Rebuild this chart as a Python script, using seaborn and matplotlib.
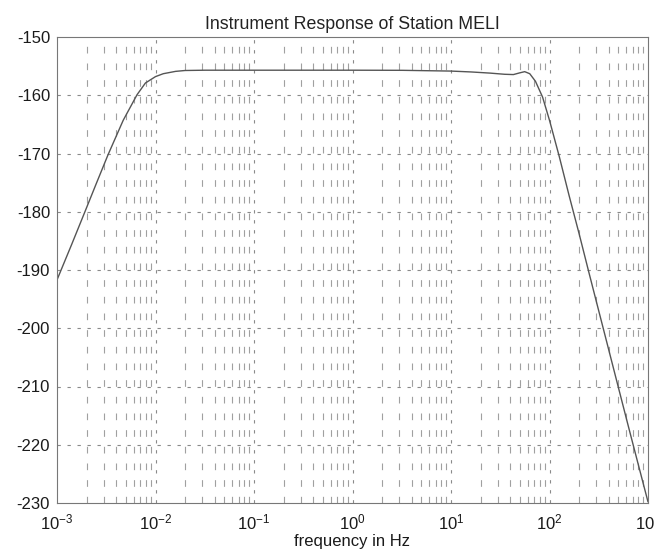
import matplotlib
matplotlib.use("Agg")
import matplotlib.pyplot as plt
import seaborn as sns
import pandas as pd

# ---- data ----
freq_hz = [0.001, 0.00141, 0.0019, 0.0025, 0.0033, 0.0047, 0.0065, 0.0079,
           0.010, 0.012, 0.016, 0.020, 0.032, 0.1, 1.0, 3.2, 10.0, 16.0,
           25.0, 35.0, 43.0, 50.0, 56.0, 63.0, 72.0, 85.0, 100.0, 126.0,
           158.0, 200.0, 251.0, 316.0, 398.0, 501.0, 631.0, 794.0, 1000.0]
response_db = [-191.7, -185.6, -180.2, -175.2, -170.2, -164.3, -159.9, -157.9,
               -156.8, -156.3, -155.9, -155.75, -155.7, -155.7, -155.7, -155.72,
               -155.85, -156.0, -156.2, -156.4, -156.45, -156.15, -155.95,
               -156.3, -157.6, -160.3, -164.3, -170.6, -177.2, -183.8, -190.4,
               -197.0, -203.6, -210.2, -216.8, -223.3, -229.8]
y_ticks = [-150, -160, -170, -180, -190, -200, -210, -220, -230]
x_decades = [1e-3, 1e-2, 1e-1, 1e0, 1e1, 1e2, 1e3]
title_text = "Instrument Response of Station MELI"
xlabel_text = "frequency in Hz"

df = pd.DataFrame({"freq": freq_hz, "db": response_db})

sns.set_style("white")
plt.rcParams["font.family"] = ["Liberation Sans", "DejaVu Sans"]
plt.rcParams["axes.unicode_minus"] = False
plt.rcParams["mathtext.default"] = "regular"

fig = plt.figure(figsize=(6.54, 5.53), dpi=100)
ax = fig.add_axes([57 / 654, 1 - 503 / 553, (648 - 57) / 654, (503 - 37) / 553])

ax.set_xscale("log")
ax.set_xlim(1e-3, 1e3)
ax.set_ylim(-230, -150)

grid_col = "#8a8a8a"
# minor vertical grid
for d in x_decades[:-1]:
    for m in range(2, 10):
        ax.axvline(d * m, color="#a0a0a0", lw=0.8, ls=(0, (6, 9)), zorder=0)
# major vertical grid
for d in x_decades[1:-1]:
    ax.axvline(d, color=grid_col, lw=0.8, ls=(0, (3, 6)), zorder=0)
# horizontal grid
for yv in y_ticks[1:-1]:
    ax.axhline(yv, color=grid_col, lw=0.8, ls=(0, (3, 6)), zorder=0)

sns.lineplot(data=df, x="freq", y="db", ax=ax, color="#555555", lw=1.0,
             estimator=None, sort=True, legend=False)

ax.set_yticks(y_ticks)
ax.set_xticks(x_decades)
ax.tick_params(axis="both", which="major", direction="in", length=4,
               labelsize=12, colors="#333333", labelcolor="#1a1a1a")
ax.tick_params(axis="y", pad=5)
ax.tick_params(axis="x", pad=7)
ax.tick_params(axis="x", which="minor", direction="in", length=2, colors="#555555")

for s in ax.spines.values():
    s.set_color("#777777")
    s.set_linewidth(0.8)

ax.set_title(title_text, fontsize=12.8, color="#222222", pad=6)
ax.set_xlabel(xlabel_text, fontsize=12, color="#1a1a1a", labelpad=1)
ax.set_ylabel("")

fig.savefig("out.png", dpi=100, facecolor="white")
